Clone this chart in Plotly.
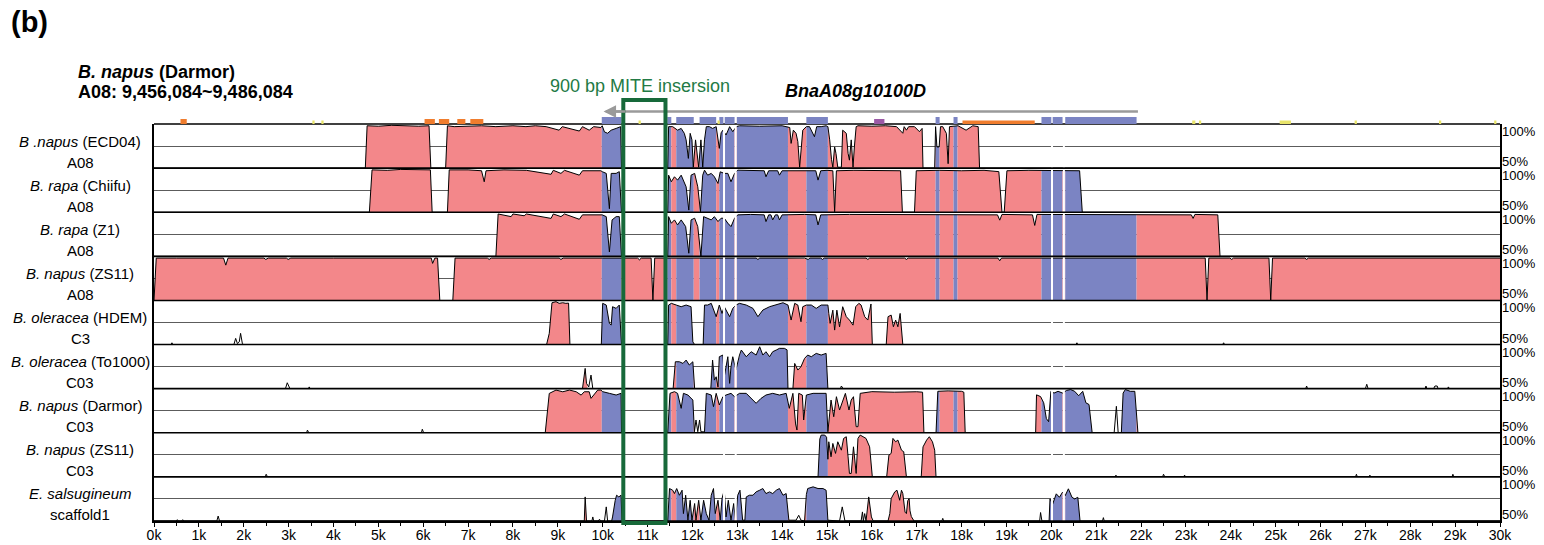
import numpy as np
import plotly.graph_objects as go

# ---------------- data ----------------
X_TICKS = list(range(0, 31))
X_TICK_LABELS = [f"{k}k" for k in X_TICKS]

SPECIES = ["B .napus", "B. rapa", "B. rapa", "B. napus", "B. oleracea",
           "B. oleracea", "B. napus", "B. napus", "E. salsugineum"]
STRAINS = ["(ECD04)", "(Chiifu)", "(Z1)", "(ZS11)", "(HDEM)",
           "(To1000)", "(Darmor)", "(ZS11)", ""]
CHROMS = ["A08", "A08", "A08", "A08", "C3", "C03", "C03", "C03", "scaffold1"]

# gene annotation (kb)
EXONS = [(9.98, 10.42), (11.44, 11.53), (11.64, 12.03), (12.16, 12.53), (12.60, 12.69),
         (12.72, 12.94), (12.99, 14.13), (14.54, 15.02), (17.42, 17.51), (17.82, 17.91),
         (19.78, 20.00), (20.03, 20.25), (20.31, 21.90)]
ORANGE_FEATURES = [(0.59, 0.73), (6.03, 6.26), (6.35, 6.58), (6.76, 6.94), (7.05, 7.34), (18.02, 19.63)]
YELLOW_FEATURES = [(3.53, 3.58), (3.73, 3.78), (10.80, 10.85), (12.56, 12.61), (23.14, 23.21),
                   (23.29, 23.34), (25.09, 25.34), (26.76, 26.81), (28.64, 28.69), (29.87, 29.92)]
PURPLE_FEATURES = [(16.05, 16.28)]
EXON_GAPS = [12.705, 12.965, 20.015, 20.28]
GENE_SPAN = (10.02, 21.93)
MITE = (10.46, 11.40)

# conservation profiles (kb, % identity)
ECD04_A08 = [(0, 50), (4.71, 50), (4.75, 98), (5.0, 97.5), (5.3, 98.5), (5.6, 98), (5.9, 97.5), (6.13, 98), (6.17, 50),
             (6.50, 50), (6.54, 98), (6.69, 97), (6.95, 97.5), (7.3, 98), (7.62, 97), (8.0, 98), (8.29, 97), (8.5, 98),
             (8.74, 97), (9.03, 93), (9.10, 97), (9.48, 92), (9.55, 97), (9.70, 93), (9.80, 97), (9.96, 96), (9.99, 98),
             (10.04, 91), (10.11, 89.5), (10.19, 93), (10.30, 95), (10.40, 97), (10.42, 50), (11.45, 50), (11.47, 97),
             (11.56, 97), (11.67, 93), (11.75, 95), (11.82, 89.4), (11.86, 82), (11.91, 61), (11.95, 89.4), (11.99, 82),
             (12.02, 51), (12.07, 82), (12.10, 66.7), (12.14, 51), (12.19, 82), (12.23, 51), (12.27, 82), (12.31, 97),
             (12.38, 97), (12.45, 95), (12.53, 97), (12.57, 85), (12.60, 72.4), (12.64, 90), (12.68, 93), (12.75, 87.5),
             (12.83, 97), (12.90, 91.3), (12.98, 97), (13.05, 98), (13.5, 97.5), (14.0, 98), (14.13, 97), (14.17, 96),
             (14.20, 78), (14.25, 93), (14.31, 89.4), (14.35, 80), (14.39, 51), (14.43, 80), (14.46, 93), (14.54, 97),
             (14.61, 97), (14.72, 85.6), (14.77, 97), (14.87, 97), (14.98, 98), (15.02, 97), (15.06, 82), (15.10, 60),
             (15.13, 51), (15.17, 74), (15.20, 66.7), (15.24, 51), (15.32, 51), (15.35, 93), (15.43, 89.4), (15.47, 66.7),
             (15.50, 59), (15.54, 82), (15.58, 51), (15.61, 74), (15.65, 97), (15.69, 98), (16.0, 97.5), (16.3, 98),
             (16.55, 97), (16.69, 89.5), (16.72, 97), (16.77, 93), (16.82, 97), (16.95, 97), (17.06, 91.3), (17.12, 95),
             (17.14, 50), (17.40, 50), (17.42, 97), (17.45, 74), (17.50, 74), (17.53, 97), (17.58, 97), (17.66, 89.4),
             (17.70, 55), (17.73, 97), (17.92, 98), (18.10, 93), (18.25, 98), (18.37, 97), (18.40, 50), (30, 50)]
CHIIFU_A08 = [(0, 50), (4.80, 50), (4.86, 98), (5.2, 97.5), (5.5, 98.5), (5.9, 98), (6.16, 98), (6.20, 50), (6.54, 50),
              (6.58, 98), (7.0, 98), (7.30, 97), (7.36, 84.5), (7.40, 97), (7.8, 98), (8.3, 97.5), (8.85, 93), (8.90, 97.5),
              (9.07, 94), (9.15, 97.5), (9.48, 92), (9.55, 97), (9.96, 97), (9.99, 96), (10.08, 94), (10.15, 54),
              (10.19, 94), (10.30, 94), (10.37, 96), (10.42, 50), (11.45, 50), (11.47, 92), (11.53, 84.5), (11.60, 90.2),
              (11.67, 86.4), (11.75, 92), (11.86, 78.8), (11.92, 52.4), (11.97, 92), (12.05, 94), (12.12, 78.8),
              (12.18, 50.5), (12.23, 92), (12.27, 97.7), (12.34, 92), (12.42, 94), (12.49, 90.2), (12.57, 82.6),
              (12.62, 95.8), (12.71, 94), (12.79, 94), (12.86, 84.5), (12.94, 94), (13.01, 97.7), (13.3, 97.5),
              (13.60, 97), (13.64, 90.2), (13.70, 97), (13.90, 97), (13.94, 92), (14.0, 97), (14.5, 97.5), (14.75, 97),
              (14.80, 86.4), (14.86, 97), (15.0, 97.5), (15.13, 97), (15.17, 50.5), (15.21, 97), (15.6, 97.5),
              (16.0, 97.5), (16.4, 97), (16.64, 97), (16.68, 50), (16.95, 50), (16.99, 97), (17.5, 97.5), (18.0, 97),
              (18.5, 97.5), (18.83, 96), (18.90, 50), (18.95, 50), (19.01, 97), (19.5, 97.5), (20.0, 97), (20.5, 97),
              (20.63, 97), (20.69, 50), (30, 50)]
Z1_A08 = [(0, 50), (7.62, 50), (7.67, 98), (7.96, 95), (8.0, 98), (8.25, 96), (8.30, 98), (8.85, 93), (8.90, 98),
          (9.07, 95), (9.15, 98), (9.48, 92), (9.55, 97), (9.96, 97), (9.99, 97), (10.08, 95), (10.15, 55), (10.21, 91.3),
          (10.30, 95), (10.37, 95), (10.42, 50), (11.45, 50), (11.47, 95), (11.53, 87.5), (11.60, 91.3), (11.67, 85.6),
          (11.75, 91.3), (11.85, 83.7), (11.92, 53.5), (11.97, 91.3), (12.05, 93.2), (12.12, 83.7), (12.19, 50),
          (12.25, 95), (12.34, 93.2), (12.42, 91.3), (12.49, 95), (12.57, 89.4), (12.64, 93.2), (12.71, 93.2),
          (12.79, 87.5), (12.86, 83.7), (12.94, 93.2), (13.01, 97), (13.3, 97.5), (13.60, 97), (13.64, 89.4),
          (13.70, 97), (13.75, 97), (13.79, 91.3), (13.85, 97), (13.90, 97), (13.94, 91.3), (14.0, 97), (14.5, 97.5),
          (14.75, 97), (14.80, 85.6), (14.86, 97), (15.5, 97.5), (16.5, 97.5), (17.5, 97.5), (18.80, 97), (18.85, 91),
          (18.90, 97.5), (19.58, 97), (19.63, 85), (19.68, 97.5), (20.5, 97.5), (21.5, 97.5), (22.5, 97.5),
          (23.12, 97), (23.16, 93), (23.20, 97.5), (23.71, 97), (23.76, 50), (30, 50)]
ZS11_A08 = [(0, 50), (0.05, 98), (0.5, 98), (1.0, 98), (1.55, 98), (1.60, 90), (1.65, 98), (2.45, 98), (2.49, 96.5),
            (2.55, 98), (2.95, 98), (2.99, 96.5), (3.05, 98), (4.0, 98), (5.0, 98), (6.0, 98), (6.18, 98), (6.21, 92),
            (6.26, 98), (6.32, 98), (6.37, 50), (6.66, 50), (6.71, 98), (7.43, 98), (7.47, 96.5), (7.52, 98), (8.5, 98),
            (9.03, 98), (9.07, 96.5), (9.12, 98), (10.0, 98), (10.78, 98), (10.82, 96), (10.86, 98), (11.08, 98),
            (11.12, 50), (11.16, 98), (12.0, 98), (13.42, 98), (13.46, 96.5), (13.50, 98), (14.5, 98), (14.58, 96.5),
            (14.62, 98), (14.86, 98), (14.90, 96.5), (14.94, 98), (15.87, 98), (15.91, 96.5), (15.95, 98), (16.73, 98),
            (16.77, 96.5), (16.81, 98), (17.5, 98), (18.81, 98), (18.85, 95), (18.89, 98), (20.0, 98), (21.0, 98),
            (22.0, 98), (23.0, 98), (23.43, 98), (23.47, 50), (23.51, 98), (23.98, 98), (24.02, 96.5), (24.06, 98),
            (24.85, 98), (24.89, 50), (24.93, 98), (25.65, 98), (25.69, 96.5), (25.73, 98), (27.0, 98), (28.5, 98),
            (30, 98)]
HDEM_C3 = [(0, 50), (0.38, 50), (0.40, 52), (0.42, 50), (1.78, 50), (1.82, 57), (1.86, 51), (1.90, 53), (1.93, 62.7),
           (1.97, 51), (2.0, 50), (8.75, 50), (8.81, 62.7), (8.87, 97.4), (8.96, 98.6), (9.03, 96.7), (9.11, 97.4),
           (9.18, 96.7), (9.24, 97), (9.27, 50), (9.97, 50), (10.0, 96.7), (10.08, 94.8), (10.15, 74), (10.19, 72.1),
           (10.22, 92.9), (10.30, 91), (10.37, 94.8), (10.42, 50), (11.45, 50), (11.47, 94.8), (11.53, 96.7),
           (11.64, 94.8), (11.75, 92.9), (11.86, 94.8), (11.97, 92.9), (12.01, 53), (12.05, 50), (12.24, 50),
           (12.27, 94.8), (12.34, 94.8), (12.42, 96.7), (12.53, 81.6), (12.60, 94.8), (12.66, 85.3), (12.71, 92.9),
           (12.83, 81.6), (12.90, 91), (12.97, 94.8), (13.05, 96.7), (13.20, 94.8), (13.35, 91), (13.46, 81.6),
           (13.57, 89.1), (13.72, 92.9), (13.87, 94.8), (14.02, 97.4), (14.13, 94.8), (14.20, 77.8), (14.28, 96.7),
           (14.35, 94.8), (14.42, 75.9), (14.46, 92.9), (14.54, 94.8), (14.65, 94.8), (14.76, 91), (14.87, 94.8),
           (14.98, 94.8), (15.02, 94.8), (15.04, 85.3), (15.07, 74), (15.13, 89), (15.17, 66.4), (15.22, 89),
           (15.28, 70), (15.35, 92.9), (15.43, 81.6), (15.50, 77.8), (15.58, 72), (15.64, 92.9), (15.71, 96.7),
           (15.76, 94.8), (15.84, 81.6), (15.91, 77.8), (15.98, 96), (16.01, 50), (16.32, 50), (16.36, 81.6),
           (16.43, 83.4), (16.48, 70.2), (16.53, 77.8), (16.58, 70.2), (16.63, 85.3), (16.69, 50), (20.55, 50),
           (20.57, 52), (20.59, 50), (23.82, 50), (23.84, 52), (23.86, 50), (30, 50)]
TO1000_C03 = [(0, 50), (2.93, 50), (2.97, 56.7), (3.0, 53), (3.03, 50), (3.44, 50), (3.46, 52), (3.48, 50), (9.55, 50),
              (9.61, 73), (9.64, 56), (9.69, 52), (9.74, 65.4), (9.78, 50), (11.57, 50), (11.62, 80.5), (11.71, 80.5),
              (11.79, 78.6), (11.86, 82.4), (11.93, 76.8), (12.01, 80.5), (12.05, 50), (12.41, 50), (12.45, 82.4),
              (12.49, 59.7), (12.53, 63.5), (12.57, 52), (12.60, 86.2), (12.68, 88.1), (12.71, 63.5), (12.79, 86.2),
              (12.83, 56), (12.86, 74.9), (12.90, 86.2), (12.97, 71.1), (13.05, 88.1), (13.09, 93.8), (13.20, 86.2),
              (13.31, 91.9), (13.42, 88.1), (13.50, 97.5), (13.57, 88.1), (13.64, 91.9), (13.72, 86.2), (13.79, 91.9),
              (13.87, 93.8), (13.94, 95.7), (14.05, 95.7), (14.11, 94), (14.13, 50), (14.24, 50), (14.28, 78.6),
              (14.35, 71.1), (14.42, 74.9), (14.50, 84.3), (14.57, 88.1), (14.65, 86.2), (14.76, 90), (14.87, 88.1),
              (14.98, 90), (15.02, 50), (15.30, 50), (15.32, 53), (15.36, 50), (25.67, 50), (25.69, 53), (25.71, 50),
              (27.0, 50), (27.03, 55), (27.06, 50), (28.33, 50), (28.35, 53), (28.37, 50), (28.52, 50), (28.55, 53),
              (28.60, 53), (28.62, 50), (28.83, 50), (28.85, 52), (28.87, 50), (30, 50)]
DARMOR_C03 = [(0, 50), (3.40, 50), (3.42, 53), (3.45, 50), (5.96, 50), (5.98, 54), (6.01, 50), (8.72, 50), (8.81, 94.6),
              (8.89, 96.5), (8.96, 98.4), (9.11, 96.5), (9.26, 98.4), (9.41, 96.5), (9.52, 92.7), (9.59, 96.5),
              (9.70, 96.5), (9.74, 89), (9.82, 94.6), (9.89, 98.4), (9.96, 98.4), (10.0, 96.6), (10.15, 94.7),
              (10.30, 92.8), (10.41, 94.7), (10.42, 50), (11.45, 50), (11.50, 94.7), (11.60, 96.6), (11.67, 94.7),
              (11.75, 77.7), (11.80, 94.7), (11.90, 92.8), (12.01, 87.1), (12.045, 51.2), (12.08, 64.5), (12.12, 51.2),
              (12.16, 64.5), (12.19, 51.2), (12.27, 51), (12.31, 94.7), (12.42, 92.8), (12.47, 79.6), (12.53, 94.7),
              (12.60, 81.5), (12.68, 90.9), (12.75, 92.8), (12.86, 94.7), (12.94, 90.9), (13.05, 94.7), (13.20, 94.7),
              (13.31, 89), (13.42, 83.4), (13.53, 89), (13.64, 92.8), (13.79, 94.7), (13.94, 92.8), (14.09, 94.7),
              (14.16, 77.7), (14.24, 94.7), (14.30, 60), (14.33, 53.1), (14.37, 94.7), (14.45, 92.8), (14.48, 64.5),
              (14.54, 92.8), (14.69, 94.7), (14.80, 94.7), (14.91, 94.7), (14.98, 94.7), (15.02, 51.2), (15.06, 72),
              (15.09, 87.1), (15.15, 68.2), (15.21, 90.9), (15.28, 75.8), (15.35, 87.1), (15.41, 94.7), (15.49, 75.8),
              (15.54, 87.1), (15.59, 90.9), (15.65, 56.9), (15.69, 56.9), (15.74, 94.7), (16.0, 96.6), (16.5, 96),
              (17.0, 96.5), (17.13, 96), (17.16, 50), (17.43, 50), (17.47, 97), (17.7, 97.5), (18.0, 97), (18.05, 96),
              (18.08, 50), (19.65, 50), (19.67, 93), (19.76, 91), (19.83, 84), (19.89, 66), (19.94, 62.6), (19.99, 97),
              (20.06, 95), (20.15, 97), (20.25, 95), (20.34, 98), (20.43, 99), (20.52, 97), (20.61, 92), (20.70, 97),
              (20.77, 84), (20.84, 82), (20.91, 50), (21.40, 50), (21.45, 80), (21.49, 50), (21.56, 50), (21.60, 95),
              (21.65, 99), (21.76, 97), (21.86, 97), (21.93, 50), (30, 50)]
ZS11_C03 = [(0, 50), (2.48, 50), (2.50, 53), (2.53, 50), (14.80, 50), (14.84, 93), (14.87, 97.4), (14.95, 97.4),
            (14.99, 95), (15.02, 70), (15.04, 89.8), (15.09, 72.8), (15.13, 87.9), (15.19, 76.6), (15.24, 89.8),
            (15.32, 80.3), (15.37, 93.6), (15.43, 95.5), (15.47, 72.8), (15.50, 53.9), (15.54, 53.9), (15.59, 84.1),
            (15.65, 53.9), (15.69, 93.6), (15.74, 97.4), (15.80, 95.5), (15.87, 93.6), (15.95, 84.1), (16.01, 50),
            (16.33, 50), (16.38, 74.7), (16.43, 76.6), (16.47, 93.6), (16.53, 89.8), (16.58, 91.7), (16.66, 80.3),
            (16.71, 78.5), (16.77, 50), (17.10, 50), (17.14, 84), (17.22, 91.7), (17.28, 95.5), (17.35, 89.8),
            (17.40, 80.3), (17.43, 50), (21.42, 50), (21.44, 52), (21.46, 50), (22.48, 50), (22.50, 53), (22.53, 50),
            (22.95, 50), (22.97, 52), (22.99, 50), (26.78, 50), (26.80, 53), (26.82, 50), (27.08, 50), (27.10, 52),
            (27.12, 50), (28.93, 50), (28.95, 53), (28.97, 50), (30, 50)]
ESAL_SCAF1 = [(0, 50), (0.50, 50), (0.52, 51.5), (0.54, 50), (0.62, 50), (0.64, 51.5), (0.66, 50), (1.40, 50),
              (1.43, 55.6), (1.46, 50), (9.59, 50), (9.61, 77.3), (9.64, 50), (9.76, 50), (9.78, 54.6), (9.80, 50),
              (9.90, 50), (9.93, 52), (9.95, 50), (10.04, 50), (10.08, 66), (10.11, 50), (10.20, 50), (10.22, 54.6),
              (10.28, 73.5), (10.31, 79.2), (10.36, 77.3), (10.41, 79.2), (10.43, 50), (11.45, 50), (11.49, 86.8),
              (11.56, 84.9), (11.60, 81.1), (11.65, 86.8), (11.71, 79.2), (11.77, 84.9), (11.80, 58.4), (11.85, 79.2),
              (11.90, 50.9), (11.95, 73.5), (11.99, 50.9), (12.05, 69.8), (12.08, 50.9), (12.14, 73.5), (12.19, 50.9),
              (12.25, 73.5), (12.31, 58.4), (12.37, 50.9), (12.42, 79.2), (12.47, 86.8), (12.51, 58.4), (12.57, 73.5),
              (12.62, 50.9), (12.66, 75.4), (12.71, 84.9), (12.75, 54.6), (12.80, 73.5), (12.86, 50.9), (12.92, 69.8),
              (12.96, 50.9), (13.01, 79.2), (13.06, 84.9), (13.12, 50.9), (13.17, 50.9), (13.20, 77.3), (13.27, 79.2),
              (13.35, 79.2), (13.42, 83), (13.50, 84.9), (13.57, 86.8), (13.64, 81.1), (13.72, 83), (13.79, 81.1),
              (13.87, 84.9), (13.94, 86.8), (14.02, 79.2), (14.09, 81.1), (14.15, 50.9), (14.31, 50.9), (14.37, 56.5),
              (14.42, 50.9), (14.50, 50), (14.54, 80), (14.57, 86.8), (14.69, 88.7), (14.80, 86.8), (14.91, 86.8),
              (14.98, 84.9), (15.02, 50.9), (15.28, 50), (15.34, 66), (15.40, 50), (15.76, 50), (15.79, 60.3),
              (15.81, 50), (15.84, 58.4), (15.87, 50), (15.93, 77.3), (15.99, 54.6), (16.03, 50), (16.36, 50),
              (16.40, 58.4), (16.43, 75.4), (16.47, 79.2), (16.51, 83), (16.56, 84.9), (16.62, 73.5), (16.66, 84.9),
              (16.69, 81.1), (16.74, 60), (16.77, 58.4), (16.80, 73), (16.83, 75.4), (16.85, 61.5), (16.88, 55),
              (16.94, 50), (17.56, 50), (17.58, 53), (17.60, 50), (19.74, 50), (19.76, 59.6), (19.79, 50), (19.95, 50),
              (19.97, 75), (20.03, 69.2), (20.11, 80.8), (20.18, 76.9), (20.25, 82.7), (20.31, 78.8), (20.38, 86.5),
              (20.46, 76.9), (20.52, 75), (20.59, 76.9), (20.64, 50), (21.14, 50), (21.16, 53.8), (21.18, 50), (30, 50)]

# conserved (shaded) intervals per track (kb)
CONS_ECD04_A08 = [(4.71, 6.17), (6.50, 10.42), (11.45, 18.40)]
CONS_CHIIFU_A08 = [(4.80, 6.20), (6.54, 10.42), (11.45, 20.69)]
CONS_Z1_A08 = [(7.62, 10.42), (11.45, 23.76)]
CONS_ZS11_A08 = [(0.0, 30.0)]
CONS_HDEM_C3 = [(8.75, 9.27), (9.97, 10.42), (11.45, 12.05), (12.24, 16.01), (16.32, 16.69)]
CONS_TO1000_C03 = [(9.56, 9.66), (11.57, 12.05), (12.41, 14.13), (14.24, 15.02)]
CONS_DARMOR_C03 = [(8.72, 10.42), (11.45, 12.045), (12.27, 17.16), (17.43, 18.08), (19.65, 20.91), (21.56, 21.93)]
CONS_ZS11_C03 = [(14.80, 16.01), (16.33, 16.77), (17.10, 17.43)]
CONS_ESAL = [(9.59, 9.64), (10.20, 10.43), (11.45, 14.15), (14.50, 15.02), (15.88, 16.0), (16.36, 16.94), (19.95, 20.64)]

PROFILES = [ECD04_A08, CHIIFU_A08, Z1_A08, ZS11_A08, HDEM_C3, TO1000_C03, DARMOR_C03, ZS11_C03, ESAL_SCAF1]
CONSERVED = [CONS_ECD04_A08, CONS_CHIIFU_A08, CONS_Z1_A08, CONS_ZS11_A08, CONS_HDEM_C3,
             CONS_TO1000_C03, CONS_DARMOR_C03, CONS_ZS11_C03, CONS_ESAL]

# ---------------- style / layout ----------------
PINK = "#F3878A"
BLUE = "#7B84C3"
ORANGE = "#F07D2E"
YELLOW = "#E8E46A"
PURPLE = "#9B5AA6"
GREEN = "#17693A"
FONT = "Liberation Sans, Arial, sans-serif"

W, H = 1544, 545
PL, PR, PT, PB = 154, 1500, 124, 521
N = len(PROFILES)


def fx(px):
    return (px - PL) / (PR - PL)


def fy(py):
    return (PB - py) / (PB - PT)


def in_exon(x):
    return any(a <= x <= b for a, b in EXONS)


fig = go.Figure()
layout = dict(width=W, height=H, margin=dict(l=PL, r=W - PR, t=PT, b=H - PB, pad=0, autoexpand=False),
              plot_bgcolor="white", paper_bgcolor="white", showlegend=False,
              font=dict(family=FONT, color="black"))

for i, (prof, cons) in enumerate(zip(PROFILES, CONSERVED)):
    yname = "y" if i == 0 else f"y{i + 1}"
    xs = np.array([p[0] for p in prof], dtype=float)
    ys = np.array([p[1] for p in prof], dtype=float)
    for a, b in cons:
        cuts = sorted({a, b} | {e for ex in EXONS for e in ex if a < e < b})
        for s, t in zip(cuts[:-1], cuts[1:]):
            col = BLUE if in_exon((s + t) / 2) else PINK
            inner = (xs > s) & (xs < t)
            px_ = [s] + list(xs[inner]) + [t]
            py_ = [float(np.interp(s, xs, ys))] + list(ys[inner]) + [float(np.interp(t, xs, ys))]
            fig.add_trace(go.Scatter(x=px_, y=py_, mode="lines", line=dict(width=0, color=col),
                                     fill="tozeroy", fillcolor=col, yaxis=yname, hoverinfo="skip"))
    fig.add_trace(go.Scatter(x=xs, y=ys, mode="lines", line=dict(color="black", width=1),
                             yaxis=yname, hoverinfo="skip"))
    key = "yaxis" if i == 0 else f"yaxis{i + 1}"
    layout[key] = dict(domain=[1 - (i + 1) / N, 1 - i / N], range=[50, 100], tickvals=[75],
                       showticklabels=False, ticks="", showgrid=True, gridcolor="#5c5c5c", gridwidth=1.2,
                       zeroline=False, showline=True, mirror=True, linecolor="black", linewidth=1.5,
                       anchor="x", fixedrange=True, automargin=False)

layout["xaxis"] = dict(range=[0, 30], anchor=f"y{N}", tickvals=X_TICKS, ticktext=X_TICK_LABELS,
                       ticks="outside", ticklen=4, tickcolor="black", tickwidth=1,
                       showline=True, linecolor="black", linewidth=1.5, showgrid=False, zeroline=False,
                       tickfont=dict(size=14, family=FONT, color="black"), automargin=False,
                       minor=dict(dtick=0.5, tick0=0, ticks="outside", ticklen=3, tickcolor="black", showgrid=False),
                       fixedrange=True)

shapes = []
# white gaps between exons
for g in EXON_GAPS:
    shapes.append(dict(type="line", xref="x", yref="paper", x0=g, x1=g, y0=0, y1=1,
                       line=dict(color="white", width=2), layer="above"))
# track borders
for k in range(N + 1):
    y = 1 - k / N
    shapes.append(dict(type="line", xref="paper", yref="paper", x0=0, x1=1, y0=y, y1=y,
                       line=dict(color="black", width=1.6), layer="above"))
# annotation track above the plot
for a, b in EXONS:
    shapes.append(dict(type="rect", xref="x", yref="paper", x0=a, x1=b, y0=fy(124), y1=fy(117),
                       fillcolor=BLUE, line=dict(width=0), layer="above"))
for a, b in ORANGE_FEATURES:
    top = 120.5 if b - a > 1 else 119
    shapes.append(dict(type="rect", xref="x", yref="paper", x0=a, x1=b, y0=fy(124), y1=fy(top),
                       fillcolor=ORANGE, line=dict(width=0), layer="above"))
for a, b in PURPLE_FEATURES:
    shapes.append(dict(type="rect", xref="x", yref="paper", x0=a, x1=b, y0=fy(124), y1=fy(119),
                       fillcolor=PURPLE, line=dict(width=0), layer="above"))
for a, b in YELLOW_FEATURES:
    shapes.append(dict(type="rect", xref="x", yref="paper", x0=a, x1=b, y0=fy(124), y1=fy(120.5),
                       fillcolor=YELLOW, line=dict(width=0), layer="above"))
# gene direction line
shapes.append(dict(type="line", xref="x", yref="paper", x0=GENE_SPAN[0] + 0.05, x1=GENE_SPAN[1],
                   y0=fy(111.5), y1=fy(111.5), line=dict(color="#9a9a9a", width=2.5), layer="above"))
# MITE box
shapes.append(dict(type="rect", xref="x", yref="paper", x0=MITE[0], x1=MITE[1], y0=fy(523), y1=fy(100),
                   line=dict(color=GREEN, width=4), fillcolor="rgba(0,0,0,0)", layer="above"))
layout["shapes"] = shapes

ann = []
ann.append(dict(x=GENE_SPAN[0], y=fy(111.5), xref="x", yref="paper", text="", showarrow=True,
                ax=22, ay=0, axref="pixel", ayref="pixel", arrowhead=2, arrowsize=1, arrowwidth=2.5,
                arrowcolor="#9a9a9a"))
ann.append(dict(x=fx(10), y=fy(22), xref="paper", yref="paper", text="<b>(b)</b>", showarrow=False,
                xanchor="left", yanchor="middle", font=dict(size=29, family=FONT)))
ann.append(dict(x=fx(77), y=fy(72), xref="paper", yref="paper", text="<b><i>B. napus</i> (Darmor)</b>",
                showarrow=False, xanchor="left", yanchor="middle", font=dict(size=18, family=FONT)))
ann.append(dict(x=fx(77), y=fy(92), xref="paper", yref="paper", text="<b>A08: 9,456,084~9,486,084</b>",
                showarrow=False, xanchor="left", yanchor="middle", font=dict(size=18, family=FONT)))
ann.append(dict(x=fx(640), y=fy(86), xref="paper", yref="paper", text="900 bp MITE insersion",
                showarrow=False, xanchor="center", yanchor="middle",
                font=dict(size=18, family=FONT, color="#237a45")))
ann.append(dict(x=fx(855), y=fy(91), xref="paper", yref="paper", text="<b><i>BnaA08g10100D</i></b>",
                showarrow=False, xanchor="center", yanchor="middle", font=dict(size=18, family=FONT)))

track_h = (PB - PT) / N
for i in range(N):
    center = PT + track_h * (i + 0.5)
    line1 = f"<i>{SPECIES[i]}</i> {STRAINS[i]}".strip()
    ann.append(dict(x=fx(80), y=fy(center - 5), xref="paper", yref="paper", text=line1, showarrow=False,
                    xanchor="center", yanchor="middle", font=dict(size=15, family=FONT)))
    ann.append(dict(x=fx(80), y=fy(center + 16), xref="paper", yref="paper", text=CHROMS[i], showarrow=False,
                    xanchor="center", yanchor="middle", font=dict(size=15, family=FONT)))
    top = 1 - i / N
    bot = 1 - (i + 1) / N
    ann.append(dict(x=1, y=top, xref="paper", yref="paper", text="100%", showarrow=False,
                    xanchor="left", yanchor="top", xshift=1, yshift=1, font=dict(size=13, family=FONT)))
    ann.append(dict(x=1, y=bot, xref="paper", yref="paper", text="50%", showarrow=False,
                    xanchor="left", yanchor="bottom", xshift=1, yshift=-2, font=dict(size=13, family=FONT)))
for a in ann:
    a.setdefault("borderpad", 0)
layout["annotations"] = ann

fig.update_layout(**layout)
try:
    fig.update_xaxes(ticklabelstandoff=-4)
except Exception:
    pass
fig.write_html("out.html")
